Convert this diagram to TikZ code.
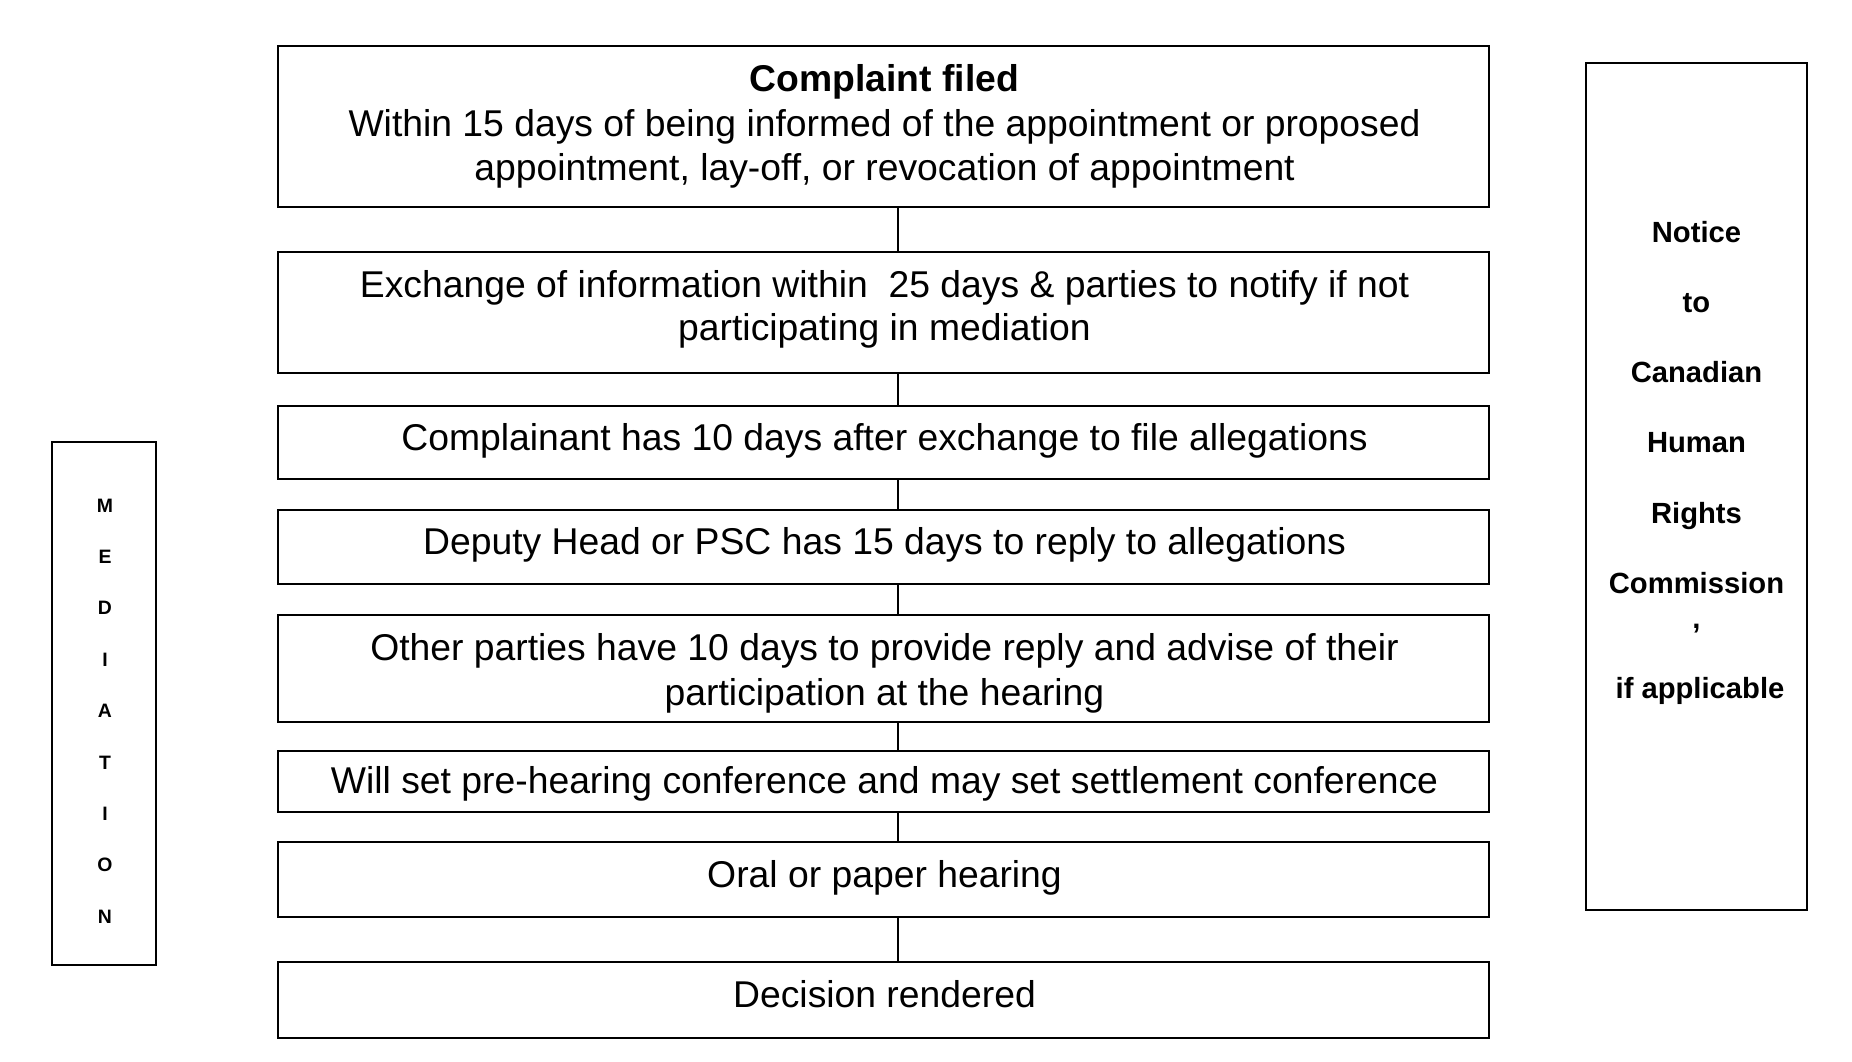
\documentclass[tikz,border=0pt]{standalone}
\usepackage{fontspec}
\setmainfont{Liberation Sans}
\begin{document}
\begin{tikzpicture}[x=1pt,y=-1pt,
  stepbox/.style={draw=black,line width=2pt,inner sep=0pt,minimum width=1211pt},
  sidebox/.style={draw=black,line width=2pt,inner sep=0pt},
  txt/.style={inner sep=0pt,anchor=base,font=\fontsize{37.3}{44}\selectfont},
  sidetxt/.style={inner sep=0pt,anchor=base,font=\fontsize{29.2}{34}\selectfont\bfseries},
  lettxt/.style={inner sep=0pt,anchor=base,font=\fontsize{19.4}{22}\selectfont\bfseries},
  conn/.style={draw=black,line width=2pt}]
\useasboundingbox (0,0) rectangle (1852,1062);
\fill[white] (0,0) rectangle (1852,1062);
% main boxes
\node[stepbox,minimum height=161pt] (b1) at (883.5,126.5) {};
\node[stepbox,minimum height=121pt] (b2) at (883.5,312.5) {};
\node[stepbox,minimum height=73pt]  (b3) at (883.5,442.5) {};
\node[stepbox,minimum height=74pt]  (b4) at (883.5,547) {};
\node[stepbox,minimum height=107pt] (b5) at (883.5,668.5) {};
\node[stepbox,minimum height=61pt]  (b6) at (883.5,781.5) {};
\node[stepbox,minimum height=75pt]  (b7) at (883.5,879.5) {};
\node[stepbox,minimum height=76pt]  (b8) at (883.5,1000) {};
% texts
\node[txt] (t1a) at (884.5,92) {\bfseries Complaint filed};
\node[txt] (t1b) at (884.5,136) {Within 15 days of being informed of the appointment or proposed};
\node[txt] (t1c) at (884.5,180) {appointment, lay-off, or revocation of appointment};
\node[txt] (t2a) at (884.5,297) {Exchange of information within\ \ 25 days \& parties to notify if not};
\node[txt] (t2b) at (884.5,340) {participating in mediation};
\node[txt] (t3) at (884.5,450) {Complainant has 10 days after exchange to file allegations};
\node[txt] (t4) at (884.5,554) {Deputy Head or PSC has 15 days to reply to allegations};
\node[txt] (t5a) at (884.5,660) {Other parties have 10 days to provide reply and advise of their};
\node[txt] (t5b) at (884.5,705) {participation at the hearing};
\node[txt] (t6) at (884.5,793) {Will set pre-hearing conference and may set settlement conference};
\node[txt] (t7) at (884.5,887) {Oral or paper hearing};
\node[txt] (t8) at (884.5,1007) {Decision rendered};
% connectors
\coordinate (cx) at (898,0);
\foreach \a/\b in {b1/b2,b2/b3,b3/b4,b4/b5,b5/b6,b6/b7,b7/b8}
  \draw[conn] (\a.south -| cx) -- (\b.north -| cx);
% mediation box
\node[sidebox,minimum width=104pt,minimum height=523pt] (med) at (104,703.5) {};
\foreach \l [count=\i from 0] in {M,E,D,I,A,T,I,O,N}
  \node[lettxt] (m\i) at (105,{512+51.4*\i}) {\l};
% notice box
\node[sidebox,minimum width=221pt,minimum height=847pt] (chr) at (1696.5,486.5) {};
\node[sidetxt] (n1) at (1696.5,242) {Notice};
\node[sidetxt] (n2) at (1696.5,312.3) {to};
\node[sidetxt] (n3) at (1696.5,382.6) {Canadian};
\node[sidetxt] (n4) at (1696.5,452.9) {Human};
\node[sidetxt] (n5) at (1696.5,523.2) {Rights};
\node[sidetxt] (n6) at (1696.5,593.5) {Commission};
\node[sidetxt] (n7) at (1696.5,628.6) {,};
\node[sidetxt] (n8) at (1700,698.9) {if applicable};
\end{tikzpicture}
\end{document}
